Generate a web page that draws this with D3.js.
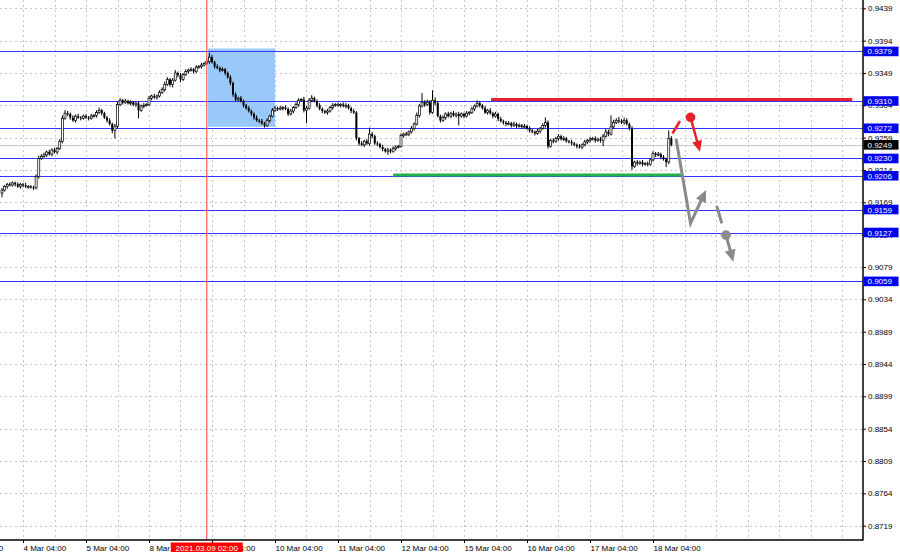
<!DOCTYPE html>
<html><head><meta charset="utf-8">
<script src="https://cdn.jsdelivr.net/npm/d3@7"></script>
<style>html,body{margin:0;padding:0;background:#fff;overflow:hidden}svg{display:block;font-family:"Liberation Sans",Arial,sans-serif}</style>
</head><body><svg id="chart" width="900" height="556"></svg>
<script>
// ---- data (hourly bars, first bar = 3 Mar 20:00) ----
const firstOpen = 0.9182;
const closes = [
0.9186,0.9191,0.9194,0.9193,0.9196,0.9194,0.9191,0.9194,
0.9193,0.9191,0.9191,0.9190,0.9189,0.9205,0.9230,0.9233,
0.9235,0.9239,0.9236,0.9242,0.9239,0.9244,0.9254,0.9286,
0.9293,0.9292,0.9287,0.9283,0.9289,0.9287,0.9286,0.9289,
0.9287,0.9286,0.9289,0.9290,0.9294,0.9297,0.9293,0.9287,
0.9283,0.9278,0.9269,0.9275,0.9305,0.9311,0.9308,0.9310,
0.9307,0.9308,0.9305,0.9307,0.9297,0.9303,0.9304,0.9305,
0.9314,0.9317,0.9315,0.9317,0.9322,0.9326,0.9333,0.9340,
0.9333,0.9339,0.9349,0.9346,0.9340,0.9347,0.9351,0.9353,
0.9354,0.9351,0.9357,0.9358,0.9360,0.9362,0.9365,0.9371,
0.9364,0.9358,0.9356,0.9353,0.9354,0.9349,0.9343,0.9335,
0.9319,0.9312,0.9314,0.9310,0.9304,0.9300,0.9296,0.9292,
0.9287,0.9283,0.9282,0.9279,0.9276,0.9283,0.9289,0.9297,
0.9300,0.9299,0.9300,0.9301,0.9299,0.9292,0.9296,0.9301,
0.9305,0.9311,0.9312,0.9297,0.9300,0.9311,0.9314,0.9310,
0.9304,0.9299,0.9296,0.9294,0.9296,0.9301,0.9304,0.9305,
0.9304,0.9305,0.9303,0.9304,0.9300,0.9296,0.9294,0.9258,
0.9251,0.9249,0.9254,0.9251,0.9264,0.9261,0.9251,0.9250,
0.9246,0.9243,0.9240,0.9242,0.9240,0.9244,0.9246,0.9247,
0.9262,0.9264,0.9264,0.9267,0.9272,0.9278,0.9290,0.9303,
0.9308,0.9305,0.9308,0.9294,0.9311,0.9307,0.9289,0.9283,
0.9287,0.9292,0.9289,0.9293,0.9290,0.9292,0.9289,0.9292,
0.9289,0.9293,0.9294,0.9299,0.9303,0.9307,0.9304,0.9300,
0.9294,0.9297,0.9293,0.9289,0.9292,0.9285,0.9282,0.9280,
0.9278,0.9279,0.9276,0.9278,0.9275,0.9276,0.9274,0.9275,
0.9272,0.9269,0.9267,0.9265,0.9268,0.9272,0.9276,0.9280,
0.9247,0.9255,0.9254,0.9258,0.9261,0.9257,0.9258,0.9254,
0.9253,0.9251,0.9249,0.9247,0.9246,0.9249,0.9253,0.9255,
0.9257,0.9258,0.9255,0.9257,0.9255,0.9261,0.9267,0.9264,
0.9274,0.9280,0.9283,0.9282,0.9280,0.9283,0.9278,0.9272,
0.9219,0.9225,0.9223,0.9225,0.9222,0.9223,0.9222,0.9228,
0.9237,0.9235,0.9236,0.9232,0.9229,0.9225,0.9258,0.9249];
// upper / lower shadow lengths in pips (0.0001)
const wickUp = [
3,2,2,3,2,2,3,2, 2,3,2,2,2,3,4,3, 3,2,3,2,3,2,3,4, 4,3,2,3,2,3,2,2,
3,2,3,2,3,4,2,2, 2,3,2,3,4,3,2,3, 2,3,2,2,3,2,3,2, 3,2,3,2,3,3,4,3,
2,3,4,2,3,2,3,2, 3,2,3,2,3,2,4,6, 3,2,3,2,3,2,2,3, 2,3,2,3,2,2,3,2,
2,3,2,3,2,3,2,3, 3,2,3,2,3,2,3,2, 3,3,2,4,3,3,4,2, 2,3,2,2,3,2,3,2,
3,2,3,3,2,2,3,2, 2,3,2,3,9,3,2,3, 2,3,2,3,2,3,2,2, 3,2,3,2,3,2,4,3,
13,3,4,3,14,4,3,2, 3,2,3,2,3,2,3,2, 2,3,2,3,2,4,3,2, 3,2,3,2,3,2,3,2,
2,3,2,3,2,3,2,3, 2,3,2,2,3,2,3,7, 3,2,3,2,3,2,3,2, 2,3,2,2,3,2,3,2,
3,2,3,2,3,3,4,3, 16,4,3,5,3,4,3,2, 3,2,3,2,3,2,3,2, 3,2,3,2,3,2,11,3];
const wickDn = [
6,2,3,2,2,3,2,3, 3,2,3,2,3,2,3,2, 2,3,2,3,2,3,2,3, 2,3,3,2,3,2,3,2,
2,3,2,2,3,2,3,2, 3,2,4,11,3,2,3,2, 2,3,2,3,11,2,3,2, 2,3,2,3,2,2,3,2,
3,4,2,3,4,2,2,3, 2,3,2,2,3,2,2,3, 2,3,2,3,2,3,2,3, 3,2,3,2,3,2,2,3,
3,2,3,2,3,2,3,2, 2,3,2,3,2,3,2,3, 2,3,2,3,18,2,3,2, 3,2,3,2,3,2,3,2,
2,3,2,3,2,3,2,3, 3,2,3,2,3,3,2,3, 2,3,2,5,3,2,3,2, 2,3,2,3,2,3,2,3,
2,3,2,3,2,3,2,3, 2,3,2,3,2,3,13,2, 3,2,3,2,3,2,3,2, 2,3,2,3,2,3,2,3,
3,2,3,2,3,2,3,2, 2,3,2,3,2,3,2,3, 3,2,3,2,3,2,3,2, 2,3,2,3,2,3,2,3,
3,2,3,2,3,8,2,3, 2,3,2,3,2,3,2,3, 5,2,3,2,3,2,3,2, 2,3,2,3,2,7,3,2];

const priceTicks = [0.9439,0.9394,0.9349,0.9304,0.9259,0.9214,0.9169,0.9124,0.9079,0.9034,0.8989,0.8944,0.8899,0.8854,0.8809,0.8764,0.8719];
const levels = [0.9379,0.9310,0.9272,0.9230,0.9206,0.9159,0.9127,0.9059];
const lastPrice = 0.9249;
const dayLabels = ["3 Mar 04:00","4 Mar 04:00","5 Mar 04:00","8 Mar 04:00","9 Mar 04:00","10 Mar 04:00","11 Mar 04:00","12 Mar 04:00","15 Mar 04:00","16 Mar 04:00","17 Mar 04:00","18 Mar 04:00"];
const dayLabelBars = [-16,8,32,56,80,104,128,152,176,200,224,248];
const markerBar = 78, markerLabel = "2021.03.09 02:00";
const zone = {from:78.5, to:104, top:0.9383, bottom:0.9274};
const redLevel = {price:0.9312, from:186.3, to:323.9};
const greenLevel = {price:0.9207, from:149, to:258.7};
const redDash = [[255.4,0.92648],[258.3,0.92822]];
const redDot = [262.3,0.92873];
const redArrow = [[262.3,0.92873],[265.9,0.92394]];
const grayPath = [[256.8,0.92571],[262.3,0.91398],[268.2,0.91862]];
const grayDash = [[272.3,0.91639],[274.2,0.91398]];
const grayDot = [275.8,0.91235];
const grayArrow = [[275.8,0.91235],[278.6,0.90864]];

// ---- layout ----
const W = 900, H = 556, plotR = 863, plotB = 540;
const svg = d3.select("#chart");
const x = d3.scaleLinear().domain([0, 320]).range([2, 2 + 320*2.625]);
const y = d3.scaleLinear().domain([0.8719, 0.9439]).range([525.7, 8.3]);

svg.append("rect").attr("width",W).attr("height",H).attr("fill","#fff");

// grid
const grid = svg.append("g").attr("stroke","#c4c4c4").attr("stroke-width",1).attr("stroke-dasharray","2,3");
grid.selectAll("line.h").data(priceTicks).join("line").attr("class","h")
  .attr("x1",0).attr("x2",plotR).attr("y1",d=>Math.round(y(d))+0.5).attr("y2",d=>Math.round(y(d))+0.5);
grid.selectAll("line.v").data(d3.range(-4, 321, 12)).join("line").attr("class","v")
  .attr("y1",0).attr("y2",plotB).attr("x1",d=>Math.round(x(d))+0.5).attr("x2",d=>Math.round(x(d))+0.5);

// zone rectangle
svg.append("rect").attr("x",x(zone.from)).attr("width",x(zone.to)-x(zone.from))
  .attr("y",y(zone.top)).attr("height",y(zone.bottom)-y(zone.top)).attr("fill","#99c8fb");

// level lines
svg.append("g").selectAll("line").data(levels).join("line")
  .attr("x1",0).attr("x2",plotR).attr("y1",d=>Math.round(y(d))+0.5).attr("y2",d=>Math.round(y(d))+0.5)
  .attr("stroke","#3434ff").attr("stroke-width",1);
svg.append("line").attr("x1",0).attr("x2",plotR).attr("y1",Math.round(y(lastPrice))+0.5).attr("y2",Math.round(y(lastPrice))+0.5)
  .attr("stroke","#c8c8c8").attr("stroke-width",1);

// candles
const bars = closes.map((c,i)=>{
  const o = i===0 ? firstOpen : closes[i-1];
  return {i, o, c, h: Math.max(o,c)+wickUp[i]/1e4, l: Math.min(o,c)-wickDn[i]/1e4};
});
const cg = svg.append("g");
cg.selectAll("line").data(bars).join("line")
  .attr("x1",d=>x(d.i)).attr("x2",d=>x(d.i)).attr("y1",d=>y(d.h)).attr("y2",d=>y(d.l))
  .attr("stroke","#000").attr("stroke-width",1);
cg.selectAll("rect").data(bars).join("rect")
  .attr("x",d=>x(d.i)-1).attr("width",2)
  .attr("y",d=>y(Math.max(d.o,d.c)))
  .attr("height",d=>Math.max(1, Math.abs(y(d.o)-y(d.c))))
  .attr("fill",d=>d.c>=d.o?"#fff":"#000").attr("stroke","#000").attr("stroke-width",d=>d.c>=d.o?0.7:0);

// red vertical marker
svg.append("line").attr("x1",x(markerBar)).attr("x2",x(markerBar))
  .attr("y1",0).attr("y2",plotB).attr("stroke","#ff5a5a").attr("stroke-width",1.2);

// thick horizontal lines
svg.append("line").attr("x1",x(redLevel.from)).attr("x2",x(redLevel.to))
  .attr("y1",y(redLevel.price)).attr("y2",y(redLevel.price)).attr("stroke","#e8202a").attr("stroke-width",3);
svg.append("line").attr("x1",x(greenLevel.from)).attr("x2",x(greenLevel.to))
  .attr("y1",y(greenLevel.price)).attr("y2",y(greenLevel.price)).attr("stroke","#22b24a").attr("stroke-width",3);

// arrows
const P = p=>[x(p[0]), y(p[1])];
function drawPath(pts, color, w){
  svg.append("path").attr("d", d3.line()(pts.map(P))).attr("fill","none")
    .attr("stroke",color).attr("stroke-width",w).attr("stroke-linejoin","miter");
}
function drawArrow(pts, color, w, len, wid){
  const q = pts.map(P);
  const [x1,y1] = q[q.length-2], [x2,y2] = q[q.length-1];
  const dx = x2-x1, dy = y2-y1, L = Math.hypot(dx,dy), ux = dx/L, uy = dy/L;
  const bx = x2-ux*len, by = y2-uy*len;
  const shaft = q.slice(0,-1).concat([[x2-ux*len*0.6, y2-uy*len*0.6]]);
  svg.append("path").attr("d", d3.line()(shaft)).attr("fill","none").attr("stroke",color).attr("stroke-width",w);
  svg.append("path").attr("d",`M${x2},${y2}L${bx-uy*wid/2},${by+ux*wid/2}L${bx+uy*wid/2},${by-ux*wid/2}Z`).attr("fill",color);
}
drawPath(redDash, "#e8202a", 2.5);
drawArrow(redArrow, "#e8202a", 2.5, 11, 10);
svg.append("circle").attr("cx",P(redDot)[0]).attr("cy",P(redDot)[1]).attr("r",4.8).attr("fill","#e8202a");
drawArrow(grayPath, "#8a8a8a", 3, 12, 11);
drawPath(grayDash, "#8a8a8a", 3);
drawArrow(grayArrow, "#8a8a8a", 3, 12, 11);
svg.append("circle").attr("cx",P(grayDot)[0]).attr("cy",P(grayDot)[1]).attr("r",4.8).attr("fill","#8a8a8a");

// axes frame
svg.append("rect").attr("x",plotR).attr("y",0).attr("width",W-plotR).attr("height",H).attr("fill","#fff");
svg.append("rect").attr("x",0).attr("y",plotB).attr("width",W).attr("height",H-plotB).attr("fill","#fff");
svg.append("line").attr("x1",plotR).attr("x2",plotR).attr("y1",0).attr("y2",plotB+0.5).attr("stroke","#000").attr("stroke-width",1.5);
svg.append("line").attr("x1",0).attr("x2",plotR).attr("y1",plotB).attr("y2",plotB).attr("stroke","#000").attr("stroke-width",1.5);

// right axis
const ra = svg.append("g").attr("transform",`translate(${plotR},0)`)
  .call(d3.axisRight(y).tickValues(priceTicks).tickFormat(d3.format(".4f")).tickSize(3).tickPadding(2));
ra.select(".domain").remove();
ra.selectAll("text").attr("font-size",8).attr("fill","#000").attr("font-family","Liberation Sans, Arial, sans-serif");
ra.selectAll("line").attr("stroke","#000");

// bottom axis
const ba = svg.append("g").attr("transform",`translate(0,${plotB})`)
  .call(d3.axisBottom(x).tickValues(dayLabelBars).tickFormat((d,i)=>dayLabels[i]).tickSize(3).tickPadding(1));
ba.select(".domain").remove();
ba.selectAll("text").attr("font-size",8).attr("fill","#000").attr("text-anchor","start")
  .attr("font-family","Liberation Sans, Arial, sans-serif").attr("dy","0.9em");
ba.selectAll("line").attr("stroke","#000");

// price labels
const lab = svg.append("g");
function priceLabel(v, bg){
  const yy = y(v);
  lab.append("rect").attr("x",plotR+0.5).attr("y",yy-4.8).attr("width",35).attr("height",9.6).attr("fill",bg);
  lab.append("text").attr("x",plotR+4.5).attr("y",yy+3).attr("font-size",8).attr("fill","#fff").text(d3.format(".4f")(v));
}
levels.forEach(v=>priceLabel(v,"#0000f0"));
priceLabel(lastPrice,"#000");

// date marker label
const mx = x(markerBar);
svg.append("rect").attr("x",mx-36).attr("y",542.5).attr("width",72).attr("height",9.5).attr("fill","#f00");
svg.append("text").attr("x",mx).attr("y",550.5).attr("text-anchor","middle").attr("font-size",8).attr("fill","#fff").text(markerLabel);
</script></body></html>
